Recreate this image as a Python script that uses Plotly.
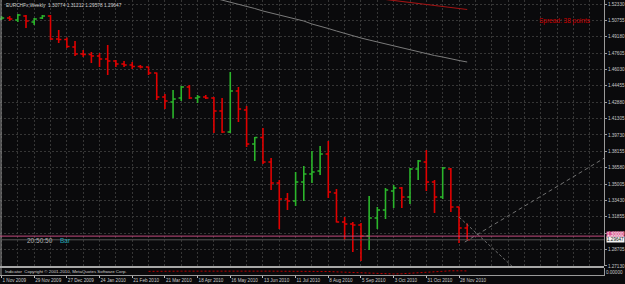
import plotly.graph_objects as go

# ---------------- data ----------------
SYMBOL_TITLE = "EURCHFx,Weekly  1.30774 1.31212 1.29578 1.29647"

BARS = list(range(58))  # weekly bars, 1 Nov 2009 ... 5 Dec 2010

OPEN = [1.50887, 1.50983, 1.50791, 1.51176, 1.50598, 1.50983, 1.51176, 1.48963, 1.48915, 1.48193,
        1.47520, 1.47472, 1.47328, 1.47039, 1.46847, 1.46558, 1.46462, 1.46318, 1.46269, 1.45692,
        1.43383, 1.42902, 1.43287, 1.44345, 1.43287, 1.43383, 1.43287, 1.42037, 1.40016, 1.43961,
        1.42133, 1.38862, 1.39487, 1.37130, 1.35110, 1.33571, 1.33379, 1.35206, 1.35976, 1.36265,
        1.37900, 1.34148, 1.31358, 1.31166, 1.31070, 1.30012, 1.31743, 1.32513, 1.34341, 1.34629,
        1.33763, 1.36457, 1.37130, 1.35206, 1.33763, 1.36457, 1.32801, 1.30774]
HIGH = [1.51176, 1.51176, 1.51368, 1.51272, 1.50983, 1.51272, 1.51272, 1.49829, 1.49107, 1.48771,
        1.47905, 1.47712, 1.47616, 1.48386, 1.46943, 1.46847, 1.46750, 1.46462, 1.46318, 1.45740,
        1.43672, 1.44057, 1.44442, 1.44538, 1.43576, 1.43576, 1.43383, 1.43287, 1.45788, 1.44345,
        1.42518, 1.39535, 1.40401, 1.37515, 1.35399, 1.34148, 1.36168, 1.36746, 1.38189, 1.38670,
        1.39151, 1.34533, 1.31839, 1.31358, 1.31262, 1.33860, 1.32801, 1.34629, 1.34918, 1.34725,
        1.36553, 1.37323, 1.38285, 1.35399, 1.36649, 1.36553, 1.32849, 1.31212]
LOW = [1.50791, 1.50695, 1.50598, 1.50021, 1.50310, 1.50887, 1.48867, 1.48578, 1.48097, 1.47328,
       1.47231, 1.46654, 1.46269, 1.45500, 1.46269, 1.46269, 1.46077, 1.46125, 1.45500, 1.43095,
       1.42229, 1.41363, 1.42999, 1.43191, 1.42806, 1.43191, 1.39920, 1.39920, 1.39920, 1.40978,
       1.38573, 1.37227, 1.36938, 1.34437, 1.30685, 1.32513, 1.32898, 1.33379, 1.35110, 1.35880,
       1.33667, 1.31310, 1.29627, 1.28472, 1.27607, 1.28665, 1.30685, 1.31647, 1.32705, 1.32705,
       1.33090, 1.35399, 1.34341, 1.32224, 1.33571, 1.32320, 1.29338, 1.29578]
CLOSE = [1.50983, 1.50887, 1.51272, 1.50695, 1.50887, 1.51176, 1.48963, 1.48915, 1.48242, 1.47520,
         1.47472, 1.47328, 1.47039, 1.46847, 1.46558, 1.46462, 1.46318, 1.46269, 1.45692, 1.43383,
         1.42999, 1.43191, 1.44345, 1.43287, 1.43383, 1.43287, 1.42037, 1.40016, 1.43961, 1.42229,
         1.38862, 1.39487, 1.37130, 1.35110, 1.33571, 1.33379, 1.35206, 1.35976, 1.36168, 1.37900,
         1.34244, 1.31358, 1.31166, 1.31070, 1.30012, 1.31743, 1.32513, 1.34437, 1.34629, 1.33763,
         1.36457, 1.37227, 1.35206, 1.33763, 1.36553, 1.32801, 1.30781, 1.29647]

# slow moving average (grey) and faster one (red), read per bar
MA_GREY_BARS = list(range(26, 58))
MA_GREY = [1.52907, 1.52715, 1.52522, 1.52330, 1.52090, 1.51897, 1.51657, 1.51464, 1.51272, 1.51079,
           1.50887, 1.50695, 1.50406, 1.50214, 1.49973, 1.49733, 1.49492, 1.49252, 1.49059, 1.48867,
           1.48674, 1.48482, 1.48290, 1.48145, 1.47953, 1.47761, 1.47568, 1.47376, 1.47231, 1.47039,
           1.46895, 1.46750]
MA_RED_BARS = list(range(47, 58))
MA_RED = [1.52763, 1.52667, 1.52571, 1.52474, 1.52378, 1.52282, 1.52186, 1.52090, 1.51993, 1.51897,
          1.51801]

# trend lines (bar index, price)
TREND_UP_X = [56.7, 75.0]
TREND_UP_Y = [1.2943, 1.3808]
TREND_DN_X = [56.0, 63.5]
TREND_DN_Y = [1.3184, 1.2636]

HLINE_LEVEL = 1.30000
BID = CLOSE[-1]

# sub-window indicator line
SUB_BARS = list(range(18, 58))
SUB_VALUES = [0.52, 0.55, 0.55, 0.56, 0.55, 0.55, 0.56, 0.55, 0.55, 0.56,
              0.55, 0.55, 0.55, 0.56, 0.55, 0.55, 0.54, 0.55, 0.55, 0.54,
              0.53, 0.52, 0.50, 0.45, 0.40, 0.35, 0.30, 0.22, 0.18, 0.15,
              0.15, 0.18, 0.25, 0.35, 0.45, 0.52, 0.58, 0.60, 0.60, 0.58]

DATE_TICKS = [0, 4, 8, 12, 16, 20, 24, 28, 32, 36, 40, 44, 48, 52, 56]
DATE_LABELS = ["1 Nov 2009", "29 Nov 2009", "27 Dec 2009", "24 Jan 2010", "21 Feb 2010",
               "21 Mar 2010", "18 Apr 2010", "16 May 2010", "13 Jun 2010", "11 Jul 2010",
               "8 Aug 2010", "5 Sep 2010", "3 Oct 2010", "31 Oct 2010", "28 Nov 2010"]
GRID_X = list(range(0, 74, 2))

PRICE_TICKS = [1.52330, 1.50755, 1.49180, 1.47605, 1.46030, 1.44455, 1.42880, 1.41305, 1.39730,
               1.38155, 1.36580, 1.35005, 1.33430, 1.31855, 1.30280, 1.28705, 1.27130]
SPREAD_TEXT = "Spread: 38 points"
TIME_TEXT = "20:50:50"
BAR_TEXT = "Bar"
SUB_TEXT = "Indicator  Copyright © 2001-2010, MetaQuotes Software Corp."
SUB_TICK = ["0.00000"]

# ---------------- styling / layout ----------------
W, H = 625, 284
ML, MR, MT, MB = 0, 21, 0, 9
PW, PH = W - ML - MR, H - MT - MB  # 604 x 275
BG = "#0a0a0c"
GRID = "#363636"
AXIS = "#9a9a9a"
TXT = "#c8c8c8"
GREEN = "#2bb52b"
RED = "#e00000"
FONT = "Liberation Sans, Arial, sans-serif"

BAR_PX = 8.17
X0 = -1.5 / BAR_PX
X1 = X0 + PW / BAR_PX
Y_HI = 1.527148
Y_LO = Y_HI - 0.000962 * 266

MAIN_BOTTOM = (PH - 266) / PH
SUB_TOP = (PH - 268) / PH


def py(px):
    return (PH - px) / PH


fig = go.Figure()

fig.add_trace(go.Ohlc(
    x=BARS, open=OPEN, high=HIGH, low=LOW, close=CLOSE,
    increasing=dict(line=dict(color=GREEN, width=1.6)),
    decreasing=dict(line=dict(color=RED, width=1.6)),
    tickwidth=0.33, hoverinfo="skip", xaxis="x", yaxis="y"))

fig.add_trace(go.Scatter(x=MA_GREY_BARS, y=MA_GREY, mode="lines",
                         line=dict(color="#7a7a7a", width=1), hoverinfo="skip"))
fig.add_trace(go.Scatter(x=MA_RED_BARS, y=MA_RED, mode="lines",
                         line=dict(color="#a01414", width=1.2), hoverinfo="skip"))
fig.add_trace(go.Scatter(x=TREND_UP_X, y=TREND_UP_Y, mode="lines",
                         line=dict(color="#707070", width=1, dash="4px,3px"), hoverinfo="skip"))
fig.add_trace(go.Scatter(x=TREND_DN_X, y=TREND_DN_Y, mode="lines",
                         line=dict(color="#707070", width=1, dash="3px,2px"), hoverinfo="skip"))

fig.add_trace(go.Scatter(x=SUB_BARS, y=SUB_VALUES, mode="lines", xaxis="x2", yaxis="y2",
                         line=dict(color="#c00000", width=1, dash="2px,2px"), hoverinfo="skip"))

tickfont = dict(family=FONT, size=4.6, color=TXT)

fig.update_layout(
    width=W, height=H, margin=dict(l=ML, r=MR, t=MT, b=MB, pad=0),
    paper_bgcolor=BG, plot_bgcolor=BG, showlegend=False,
    font=dict(family=FONT, color=TXT, size=5),
    xaxis=dict(domain=[0, 1], anchor="y", range=[X0, X1], tickmode="array", tickvals=GRID_X,
               showticklabels=False, ticks="", showgrid=True, gridcolor=GRID, gridwidth=1,
               griddash="2px,2px", zeroline=False, showline=False,
               rangeslider=dict(visible=False), fixedrange=True),
    yaxis=dict(domain=[MAIN_BOTTOM, 1], anchor="x", side="right", range=[Y_LO, Y_HI],
               tickmode="array", tickvals=PRICE_TICKS,
               ticktext=[f"{v:.5f}" for v in PRICE_TICKS],
               showgrid=True, gridcolor=GRID, gridwidth=1, griddash="2px,2px",
               zeroline=False, showline=True, linecolor=AXIS, linewidth=1,
               ticks="outside", ticklen=2, tickcolor=AXIS, tickfont=tickfont, fixedrange=True),
    xaxis2=dict(domain=[0, 1], anchor="y2", matches="x", range=[X0, X1], tickmode="array",
                tickvals=DATE_TICKS, ticktext=DATE_LABELS, ticklabelposition="outside right",
                tickangle=0, ticks="outside", ticklen=2, tickcolor="#c0c0c0", showgrid=False,
                showline=True, linecolor=AXIS, linewidth=1, zeroline=False, tickfont=tickfont,
                fixedrange=True),
    yaxis2=dict(domain=[0, SUB_TOP], anchor="x2", side="right", range=[0, 1],
                showgrid=False, showline=True, linecolor=AXIS, linewidth=1, zeroline=False,
                tickmode="array", tickvals=[0.4], ticktext=SUB_TICK, ticks="",
                tickfont=tickfont, fixedrange=True),
)

shapes = [
    # left border
    dict(type="line", xref="paper", yref="paper", x0=1 / PW, x1=1 / PW, y0=0, y1=1,
         line=dict(color=AXIS, width=1)),
    # separator between main chart and sub-window
    dict(type="rect", xref="paper", yref="paper", x0=0, x1=1, y0=SUB_TOP, y1=MAIN_BOTTOM,
         fillcolor="#a8a8a8", line=dict(width=0)),
    # horizontal line object
    dict(type="line", xref="paper", yref="y", x0=0, x1=1, y0=HLINE_LEVEL, y1=HLINE_LEVEL,
         line=dict(color="#c24a7c", width=1)),
    # bid line
    dict(type="line", xref="paper", yref="y", x0=0, x1=1, y0=BID, y1=BID,
         line=dict(color="#555555", width=1)),
]
fig.update_layout(shapes=shapes)

ann = [
    dict(text=SYMBOL_TITLE, xref="paper", yref="paper", x=4 / PW, y=1, xanchor="left",
         yanchor="top", yshift=-1, showarrow=False, font=dict(family=FONT, size=4.8, color="#d0d0d0")),
    dict(text=SPREAD_TEXT, xref="paper", yref="paper", x=537 / PW, y=py(21), xanchor="left",
         yanchor="middle", showarrow=False, font=dict(family=FONT, size=6.5, color="#d00000")),
    dict(text=TIME_TEXT, xref="paper", yref="paper", x=25 / PW, y=py(240), xanchor="left",
         yanchor="middle", showarrow=False, font=dict(family=FONT, size=6.5, color="#b4b4b4")),
    dict(text=BAR_TEXT, xref="paper", yref="paper", x=58 / PW, y=py(240), xanchor="left",
         yanchor="middle", showarrow=False, font=dict(family=FONT, size=6.5, color="#22a6b3")),
    dict(text=f"{HLINE_LEVEL:.5f}", xref="paper", yref="y", x=1, y=HLINE_LEVEL, xanchor="left",
         yanchor="middle", xshift=2, yshift=2, showarrow=False, bgcolor="#d9528a", borderpad=0,
         font=dict(family=FONT, size=4.6, color="#ffffff")),
    dict(text=f"{BID:.5f}", xref="paper", yref="y", x=1, y=BID, xanchor="left",
         yanchor="middle", xshift=2, showarrow=False, bgcolor="#f2f2f2", borderpad=0,
         font=dict(family=FONT, size=4.6, color="#101010")),
    dict(text=SUB_TEXT, xref="paper", yref="paper", x=3 / PW, y=py(271), xanchor="left",
         yanchor="middle", showarrow=False, font=dict(family=FONT, size=4.4, color="#d0d0d0")),
]
fig.update_layout(annotations=ann)

fig.write_html("out.html")
